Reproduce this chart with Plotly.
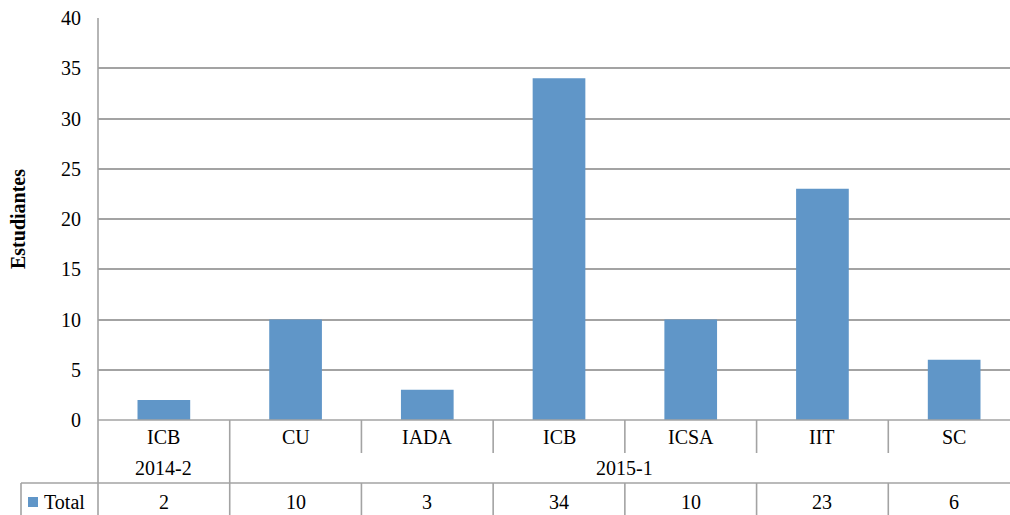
import plotly.graph_objects as go

categories = ["ICB", "CU", "IADA", "ICB", "ICSA", "IIT", "SC"]
semesters = ["2014-2", "2015-1"]
semester_of_category = [0, 1, 1, 1, 1, 1, 1]
values = [2, 10, 3, 34, 10, 23, 6]
series_name = "Total"
y_ticks = [0, 5, 10, 15, 20, 25, 30, 35, 40]

BAR = "#6096c8"
GRID = "#a3a3a3"
FONT = "Liberation Serif"
W, H = 1010, 515
T, B, L = 18, 515 - 420, 98
PH = H - T - B


def py(p):
    return (H - B - p) / PH


def px(p):
    return (p - L) / (W - L)


xs = list(range(len(categories)))
fig = go.Figure(go.Bar(x=xs, y=values, width=0.4, marker=dict(color=BAR, line=dict(width=0)),
                       name=series_name, showlegend=False))

fig.update_layout(
    width=W, height=H, margin=dict(l=L, r=0, t=T, b=B),
    paper_bgcolor="white", plot_bgcolor="white",
    font=dict(family=FONT, size=20, color="black"),
)
fig.update_xaxes(range=[-0.5, 6.424], showticklabels=False, showgrid=False,
                 zeroline=False, showline=False, ticks="")
fig.update_yaxes(range=[0, 40], tickvals=y_ticks, showgrid=True, gridcolor=GRID, gridwidth=1.5,
                 zeroline=False, showline=False, ticks="", ticklabelstandoff=16,
                 title=dict(text="<b>Estudiantes</b>", standoff=30, font=dict(size=20)))

shapes = []
line = dict(color=GRID, width=1.6)
shapes.append(dict(type="line", xref="paper", yref="paper", x0=0, x1=0, y0=py(18), y1=py(520), line=line))
shapes.append(dict(type="line", xref="paper", yref="paper", x0=0, x1=1.01, y0=py(420), y1=py(420), line=line))
shapes.append(dict(type="line", xref="paper", yref="paper", x0=px(21), x1=1.01,
                   y0=py(483), y1=py(483), line=line))
shapes.append(dict(type="line", xref="paper", yref="paper", x0=px(21), x1=px(21),
                   y0=py(483), y1=py(520), line=line))
for i in range(len(categories) - 1):
    xb = i + 0.5
    same_group = semester_of_category[i] == semester_of_category[i + 1]
    bottom = 453 if same_group else 483
    shapes.append(dict(type="line", xref="x", yref="paper", x0=xb, x1=xb, y0=py(420), y1=py(bottom), line=line))
    shapes.append(dict(type="line", xref="x", yref="paper", x0=xb, x1=xb, y0=py(483), y1=py(520), line=line))
shapes.append(dict(type="rect", xref="paper", yref="paper", x0=px(28), x1=px(38),
                   y0=py(497), y1=py(507), fillcolor=BAR, line=dict(width=0)))
fig.update_layout(shapes=shapes)

ann = []
for i, c in enumerate(categories):
    ann.append(dict(x=i, y=py(437), xref="x", yref="paper", text=c, showarrow=False, yanchor="middle"))
    ann.append(dict(x=i, y=py(502), xref="x", yref="paper", text=str(values[i]), showarrow=False, yanchor="middle"))
for g, s in enumerate(semesters):
    idx = [i for i, v in enumerate(semester_of_category) if v == g]
    ann.append(dict(x=(idx[0] + idx[-1]) / 2, y=py(468), xref="x", yref="paper", text=s,
                    showarrow=False, yanchor="middle"))
ann.append(dict(x=px(42), y=py(502), xref="paper", yref="paper", text=series_name,
                showarrow=False, xanchor="left", yanchor="middle"))
fig.update_layout(annotations=ann)

fig.write_html("out.html", config={"displayModeBar": False},
               post_script="document.body.style.margin='0';document.body.style.overflow='hidden';")
